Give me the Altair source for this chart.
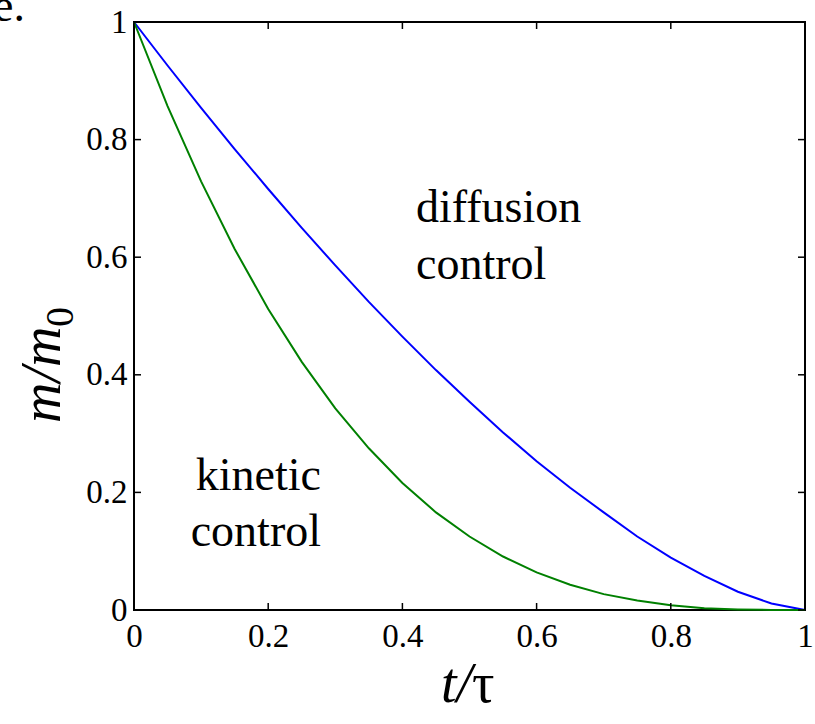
import altair as alt
import pandas as pd

# ---- data ----
t_vals = [0.0, 0.05, 0.1, 0.15, 0.2, 0.25, 0.3, 0.35, 0.4, 0.45, 0.5,
          0.55, 0.6, 0.65, 0.7, 0.75, 0.8, 0.85, 0.9, 0.95, 1.0]
diffusion_vals = [1.0, 0.926, 0.854, 0.784, 0.716, 0.650, 0.586, 0.524, 0.465, 0.408, 0.354,
                  0.302, 0.253, 0.208, 0.166, 0.125, 0.089, 0.058, 0.031, 0.011, 0.0]
kinetic_vals = [1.0, 0.857, 0.729, 0.614, 0.512, 0.422, 0.343, 0.275, 0.216, 0.166, 0.125,
                0.091, 0.064, 0.043, 0.027, 0.016, 0.008, 0.003, 0.001, 0.0, 0.0]
x_ticks = [0, 0.2, 0.4, 0.6, 0.8, 1]
y_ticks = [0, 0.2, 0.4, 0.6, 0.8, 1]
series_names = ["diffusion", "kinetic"]
series_colors = ["#0000FF", "#008000"]

W, H = 671, 588
FONT = "'Liberation Serif', 'Times New Roman', Times, serif"

rows = []
for name, vals in zip(series_names, [diffusion_vals, kinetic_vals]):
    for t, m in zip(t_vals, vals):
        rows.append({"t": t, "m": m, "series": name})
df = pd.DataFrame(rows)

xscale = alt.Scale(domain=[0, 1], nice=False, zero=False)
yscale = alt.Scale(domain=[0, 1], nice=False, zero=False)

label_expr = "datum.value == 0 ? '0' : datum.value == 1 ? '1' : format(datum.value, '.1f')"

lines = alt.Chart(df).mark_line(strokeWidth=2, clip=False).encode(
    x=alt.X("t:Q", scale=xscale,
            axis=alt.Axis(values=x_ticks, ticks=False, domain=False, grid=False,
                          labelFont=FONT, labelFontSize=33, labelColor="black",
                          labelPadding=10, labelExpr=label_expr, title=None,
                          labelFlush=False, labelOverlap=False)),
    y=alt.Y("m:Q", scale=yscale,
            axis=alt.Axis(values=y_ticks, ticks=False, domain=False, grid=False,
                          labelFont=FONT, labelFontSize=33, labelColor="black",
                          labelPadding=7, labelExpr=label_expr, title=None,
                          labelFlush=False, labelOverlap=False)),
    color=alt.Color("series:N", scale=alt.Scale(domain=series_names, range=series_colors),
                    legend=None),
    detail="series:N",
)

xt = pd.DataFrame({"v": x_ticks})
yt = pd.DataFrame({"v": y_ticks})
TL = 7
tick_bottom = alt.Chart(xt).mark_rule(color="black", strokeWidth=1.5).encode(
    x=alt.X("v:Q", scale=xscale), y=alt.value(H), y2=alt.value(H - TL))
tick_top = alt.Chart(xt).mark_rule(color="black", strokeWidth=1.5).encode(
    x=alt.X("v:Q", scale=xscale), y=alt.value(0), y2=alt.value(TL))
tick_left = alt.Chart(yt).mark_rule(color="black", strokeWidth=1.5).encode(
    y=alt.Y("v:Q", scale=yscale), x=alt.value(0), x2=alt.value(TL))
tick_right = alt.Chart(yt).mark_rule(color="black", strokeWidth=1.5).encode(
    y=alt.Y("v:Q", scale=yscale), x=alt.value(W), x2=alt.value(W - TL))


def txt(s, x, y, size, align="left", baseline="alphabetic", style="normal", angle=0):
    kw = dict(text=s, font=FONT, fontSize=size, align=align, baseline=baseline,
              fontStyle=style, color="black")
    if angle:
        kw["angle"] = angle
    return alt.Chart(pd.DataFrame({"a": [0]})).mark_text(**kw).encode(
        x=alt.value(x), y=alt.value(y))


annotations = [
    txt("diffusion", 282, 200, 46),
    txt("control", 282, 257, 46),
    txt("kinetic", 187, 468, 46, align="right"),
    txt("control", 187, 524, 46, align="right"),
    # y title m/m0
    txt("m/m", -74, 401, 56, style="italic", angle=270),
    txt("0", -61, 305, 40, angle=270),
    # x title t/tau
    txt("t/", 338, 680, 56, align="right", style="italic"),
    txt("τ", 338, 680, 56, align="left"),
    # panel letter (cropped at the image edge, as in the reference)
    txt("e.", -141, -1, 46),
]

chart = alt.layer(lines, tick_bottom, tick_top, tick_left, tick_right, *annotations).properties(
    width=W, height=H,
    autosize=alt.AutoSizeParams(type="none"),
    padding={"left": 134, "top": 22, "right": 10, "bottom": 114},
    background="white",
).configure_view(stroke="black", strokeWidth=2)

chart.save("out.html", embed_options={"renderer": "svg", "actions": False})
